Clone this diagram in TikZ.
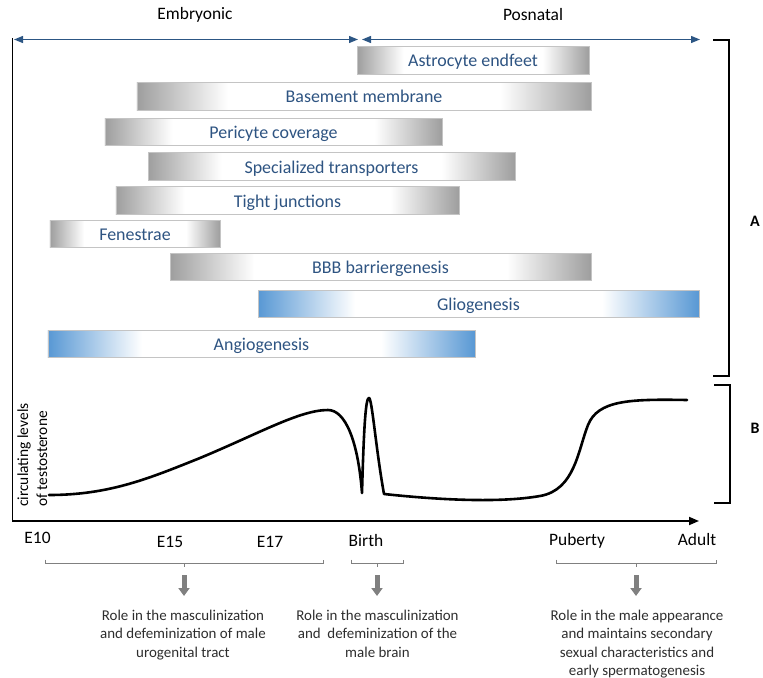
\documentclass[tikz,border=0pt]{standalone}
\usepackage{fontspec}
\setmainfont{Carlito}
\usetikzlibrary{arrows.meta}
\definecolor{txtblue}{RGB}{46,84,130}
\definecolor{arrblue}{RGB}{44,86,132}
\definecolor{barGray}{RGB}{158,158,158}
\definecolor{barBlue}{RGB}{88,152,212}
\definecolor{barEdge}{RGB}{196,196,196}
\definecolor{noteGray}{RGB}{128,128,128}
\definecolor{noteText}{RGB}{45,45,45}
\pgfdeclarehorizontalshading{grayfade}{100bp}{color(0bp)=(barGray); color(25bp)=(barGray); color(35bp)=(white); color(65bp)=(white); color(75bp)=(barGray); color(100bp)=(barGray)}
\pgfdeclarehorizontalshading{bluefade}{100bp}{color(0bp)=(barBlue); color(25bp)=(barBlue); color(36bp)=(white); color(64bp)=(white); color(75bp)=(barBlue); color(100bp)=(barBlue)}
\tikzset{
  barbox/.style={draw=barEdge, line width=0.8bp, inner sep=0pt, minimum height=27.5bp,
    text height=13bp, text depth=0pt, font=\fontsize{18}{20}\selectfont, text=txtblue},
  graybar/.style={barbox, shading=grayfade},
  bluebar/.style={barbox, shading=bluefade},
  phase/.style={font=\fontsize{17.5}{20}\selectfont, inner sep=0pt},
  ticklabel/.style={font=\fontsize{17.5}{20}\selectfont, inner sep=0pt, anchor=base},
  toparrow/.style={draw=arrblue, line width=1.2bp, {Triangle[length=9bp,width=7bp,fill=arrblue]}-{Triangle[length=9bp,width=7bp,fill=arrblue]}},
  axisline/.style={line width=1.8bp, -{Triangle[length=10bp,width=8bp]}},
  bracketline/.style={line width=1.8bp},
  braceline/.style={draw=noteGray, line width=0.9bp},
  blockarrow/.style={draw=noteGray, line width=5bp, -{Triangle[length=8bp,width=11bp,fill=noteGray]}},
  notetext/.style={font=\fontsize{15}{18.5}\selectfont, text=noteText, align=center, inner sep=0pt, anchor=base},
  curve/.style={line width=2.6bp, line join=round, line cap=round}
}
\begin{document}
\begin{tikzpicture}[x=1bp,y=-1bp]
\useasboundingbox (0,0) rectangle (763,678);

% phase titles and arrows
\node[phase] (emb) at (195,15) {Embryonic};
\node[phase] (pos) at (533,15) {Posnatal};
\coordinate (ea) at (14,39.5);
\coordinate (eb) at (358,39.5);
\coordinate (pa) at (362,39.5);
\coordinate (pb) at (700,39.5);
\draw[toparrow] (ea) -- (eb);
\draw[toparrow] (pa) -- (pb);

% bars
\node[graybar, minimum width=232bp] (astro) at (473,60.5) {Astrocyte endfeet};
\node[graybar, minimum width=454bp] (basem) at (364,96.5) {Basement membrane};
\node[graybar, minimum width=337bp] (peri) at (273.5,132) {Pericyte coverage};
\node[graybar, minimum width=367bp] (spec) at (331.5,166.5) {Specialized transporters};
\node[graybar, minimum width=343bp] (tight) at (287.5,200.5) {Tight junctions};
\node[graybar, minimum width=170bp] (fen) at (135,234) {Fenestrae};
\node[graybar, minimum width=421bp] (bbb) at (380.5,267) {BBB barriergenesis};
\node[bluebar, minimum width=441bp] (glio) at (478.5,304) {Gliogenesis};
\node[bluebar, minimum width=427bp] (angio) at (261.5,344) {Angiogenesis};

% axes
\coordinate (ytop) at (12.5,38);
\coordinate (orig) at (12.5,521);
\coordinate (xend) at (699,521);
\draw[axisline] (ytop) -- (orig) -- (xend);

\node[rotate=90, anchor=base west, align=left, inner sep=0pt, font=\fontsize{15.5}{19}\selectfont] (ylab) at (47,507) {circulating levels\\of testosterone};

% testosterone curve
\draw[curve] (49,495) .. controls (110,495) and (150,478) .. (200,458)
  .. controls (260,433) and (300,410) .. (328,410)
  .. controls (345,410) and (358,440) .. (362,493)
  .. controls (364,420) and (366,398) .. (369,398)
  .. controls (372,398) and (376,450) .. (384,494)
  .. controls (440,500) and (500,503) .. (540,496)
  .. controls (575,490) and (578,450) .. (588,425)
  .. controls (598,400) and (630,399) .. (687,400);

% tick labels
\node[ticklabel] (e10) at (37.5,543) {E10};
\node[ticklabel] (e15) at (170,547) {E15};
\node[ticklabel] (e17) at (270,547) {E17};
\node[ticklabel] (birth) at (366,546.5) {Birth};
\node[ticklabel] (pub) at (577,545) {Puberty};
\node[ticklabel] (adult) at (697,545) {Adult};

% brackets A and B
\draw[bracketline] (713,40) -- (729,40) -- (729,376) -- (713,376);
\draw[bracketline] (714,385) -- (730,385) -- (730,503) -- (714,503);
\node[font=\bfseries\fontsize{16}{18}\selectfont, inner sep=0pt] (labA) at (755,221) {A};
\node[font=\bfseries\fontsize{16}{18}\selectfont, inner sep=0pt] (labB) at (755,428) {B};

% braces
\draw[braceline] (45,559.5) -- (45,563) -- (323,563) -- (323,559.5);
\draw[braceline] (184,563) -- (184,567);
\draw[braceline] (351,559.5) -- (351,563) -- (403,563) -- (403,559.5);
\draw[braceline] (377,563) -- (377,567);
\draw[braceline] (556,559.5) -- (556,563) -- (716,563) -- (716,559.5);
\draw[braceline] (636,563) -- (636,567);

% notes
\node[notetext] (n1) at (183,657) {Role in the masculinization\\and defeminization of male\\urogenital tract};
\node[notetext] (n2) at (377.5,657) {Role in the masculinization\\and~ defeminization of the\\male brain};
\node[notetext] (n3) at (637,675.5) {Role in the male appearance\\and maintains secondary\\sexual characteristics and\\early spermatogenesis};

\coordinate (a1) at (184,575);
\coordinate (a2) at (377,575);
\coordinate (a3) at (636,575);
\draw[blockarrow] (a1) -- (184,596);
\draw[blockarrow] (a2) -- (377,596);
\draw[blockarrow] (a3) -- (636,596);
\end{tikzpicture}
\end{document}
